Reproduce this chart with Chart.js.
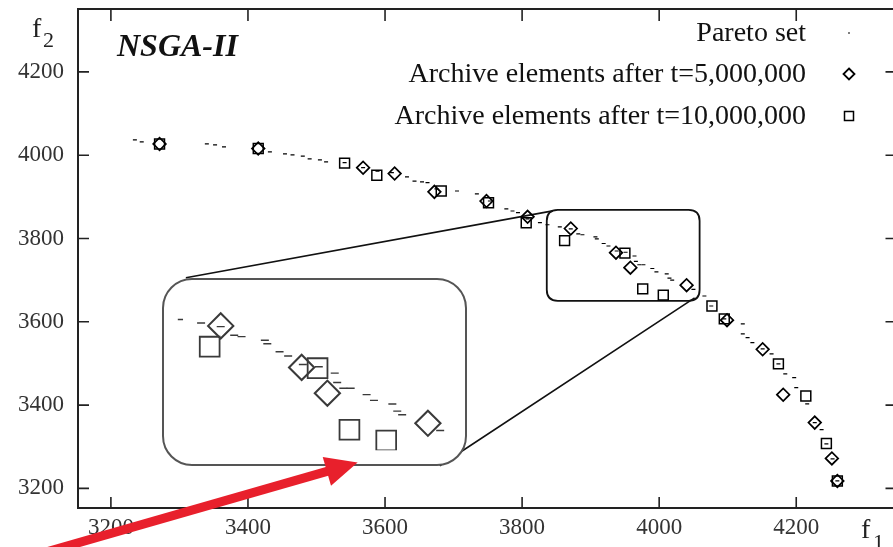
<!DOCTYPE html>
<html><head><meta charset="utf-8">
<script src="https://cdn.jsdelivr.net/npm/chart.js@4/dist/chart.umd.min.js"></script>
<style>
html,body{margin:0;padding:0;background:#fff;overflow:hidden}
#wrap{position:relative;width:900px;height:547px}
#main{position:absolute;left:0;top:0}
#inset{position:absolute;background:#fff;border:2px solid #555;border-radius:30px;box-sizing:border-box;overflow:hidden}
#insetCanvas{position:absolute;left:-2px;top:-2px}
#top{position:absolute;left:0;top:0;pointer-events:none}
</style></head><body>
<div id="wrap">
<canvas id="main" width="900" height="547"></canvas>
<div id="inset"><canvas id="insetCanvas"></canvas></div>
<canvas id="top" width="900" height="547"></canvas>
</div>
<script>
// ---- data ----
const xTicks = [3200, 3400, 3600, 3800, 4000, 4200];
const yTicks = [3200, 3400, 3600, 3800, 4000, 4200];
const seriesLabels = ["Pareto set", "Archive elements after t=5,000,000", "Archive elements after t=10,000,000"];
const paretoX = [3235,3245,3340,3352,3365,3432,3454,3465,3480,3490,3505,3514,3541,3568,3589,3610,3632,3643,3654,3662,3675,3705,3734,3753,3777,3786,3794,3808,3826,3837,3855,3871,3882,3888,3907,3909,3919,3926,3938,3951,3964,3966,3971,3977,3990,3996,4011,4015,4019,4050,4066,4076,4095,4122,4122,4129,4136,4151,4164,4174,4184,4197,4200,4216,4227,4237,4244,4253,4260];
const paretoY = [4037,4032,4027,4025,4020,4008,4003,4001,3998,3991,3989,3984,3982,3970,3962,3958,3948,3938,3936,3934,3919,3914,3907,3890,3871,3866,3862,3847,3838,3833,3828,3823,3811,3809,3804,3799,3788,3782,3770,3767,3758,3745,3737,3737,3728,3720,3715,3705,3700,3678,3662,3638,3607,3595,3571,3562,3550,3535,3523,3499,3475,3466,3442,3403,3358,3341,3307,3271,3218];
const arch5X = [3271,3415,3568,3614,3672,3748,3808,3871,3937,3958,4040,4099,4151,4181,4227,4252,4260];
const arch5Y = [4027,4016,3970,3956,3912,3890,3852,3824,3766,3730,3688,3604,3534,3425,3358,3272,3218];
const arch10X = [3271,3415,3541,3588,3682,3751,3806,3862,3950,3976,4006,4077,4095,4174,4214,4244,4260];
const arch10Y = [4027,4016,3981,3952,3914,3886,3838,3795,3765,3679,3664,3638,3607,3499,3422,3308,3218];
// zoomed region (small box) and where it is magnified (large box), in data units
const zoomX = [3836, 4059];
const zoomY = [3650.4, 3868.8];
const insetX = [3274.4, 3719.2];
const insetY = [3254.4, 3705.6];
// arrow (data units)
const arrowFrom = [3090, 3040];
const arrowTo = [3560, 3262];

const pts = (xs, ys) => xs.map((x, i) => ({x, y: ys[i]}));
const SERIF = "'Liberation Serif', 'DejaVu Serif', serif";

function makeDatasets(scale, color, lw) {
  return [
    {label: seriesLabels[0], data: pts(paretoX, paretoY), pointStyle: 'line',
     pointRadius: 2 * scale, borderWidth: lw * 0.8, borderColor: color, backgroundColor: color, showLine: false},
    {label: seriesLabels[1], data: pts(arch5X, arch5Y), pointStyle: 'rectRot',
     pointRadius: 6.3 * scale, borderWidth: lw * 1.15, borderColor: color, backgroundColor: 'rgba(0,0,0,0)', showLine: false},
    {label: seriesLabels[2], data: pts(arch10X, arch10Y), pointStyle: 'rect',
     pointRadius: 7 * scale, borderWidth: lw, borderColor: color, backgroundColor: 'rgba(0,0,0,0)', showLine: false}
  ];
}

function roundRect(ctx, x, y, w, h, r) {
  ctx.beginPath();
  ctx.moveTo(x + r, y);
  ctx.lineTo(x + w - r, y); ctx.quadraticCurveTo(x + w, y, x + w, y + r);
  ctx.lineTo(x + w, y + h - r); ctx.quadraticCurveTo(x + w, y + h, x + w - r, y + h);
  ctx.lineTo(x + r, y + h); ctx.quadraticCurveTo(x, y + h, x, y + h - r);
  ctx.lineTo(x, y + r); ctx.quadraticCurveTo(x, y, x + r, y);
  ctx.closePath();
}

const decor = {
  id: 'decor',
  beforeDatasetsDraw(chart) {
    const {ctx, scales: {x, y}} = chart;
    const sL = x.getPixelForValue(zoomX[0]), sR = x.getPixelForValue(zoomX[1]);
    const sT = y.getPixelForValue(zoomY[1]), sB = y.getPixelForValue(zoomY[0]);
    const lL = x.getPixelForValue(insetX[0]), lR = x.getPixelForValue(insetX[1]);
    const lT = y.getPixelForValue(insetY[1]), lB = y.getPixelForValue(insetY[0]);
    ctx.save();
    ctx.strokeStyle = '#111'; ctx.lineWidth = 1.8;
    roundRect(ctx, sL, sT, sR - sL, sB - sT, 11);
    ctx.stroke();
    ctx.lineWidth = 1.6;
    ctx.beginPath();
    ctx.moveTo(lL + 24, lT); ctx.lineTo(sL + 6, sT + 1);
    ctx.moveTo(lR - 27, lB); ctx.lineTo(sR - 5, sB - 3);
    ctx.stroke();
    ctx.restore();
  },
  afterDraw(chart) {
    const {ctx, chartArea: a, scales: {x, y}} = chart;
    const rightEdge = a.right + 5; // frame's right side sits just outside the visible window
    ctx.save();
    // frame
    ctx.strokeStyle = '#222'; ctx.lineWidth = 2;
    ctx.strokeRect(a.left, a.top, rightEdge - a.left, a.bottom - a.top);
    // inward ticks on all sides
    ctx.lineWidth = 1.6;
    ctx.beginPath();
    xTicks.forEach(v => {
      const p = x.getPixelForValue(v);
      ctx.moveTo(p, a.bottom); ctx.lineTo(p, a.bottom - 11);
      ctx.moveTo(p, a.top); ctx.lineTo(p, a.top + 12);
    });
    yTicks.forEach(v => {
      const p = y.getPixelForValue(v);
      ctx.moveTo(a.left, p); ctx.lineTo(a.left + 11, p);
      ctx.moveTo(rightEdge, p); ctx.lineTo(rightEdge - 11, p);
    });
    ctx.stroke();
    // title
    ctx.fillStyle = '#111';
    ctx.font = "bold italic 32px " + SERIF;
    ctx.textBaseline = 'alphabetic'; ctx.textAlign = 'left';
    ctx.fillText('NSGA-II', 117, 56);
    // axis titles
    ctx.fillStyle = '#222';
    ctx.font = "28px " + SERIF;
    ctx.fillText('f', 32, 37);
    ctx.font = "22px " + SERIF;
    ctx.fillText('2', 43, 47);
    ctx.font = "28px " + SERIF;
    ctx.fillText('f', 861, 538);
    ctx.font = "22px " + SERIF;
    ctx.fillText('1', 873, 549);
    // legend
    const rows = [33, 74, 116];
    ctx.font = "28px " + SERIF;
    ctx.textAlign = 'right'; ctx.textBaseline = 'middle';
    chart.data.datasets.forEach((ds, i) => {
      ctx.fillStyle = '#111';
      ctx.fillText(ds.label, 806, rows[i] + 1);
      ctx.strokeStyle = '#000';
      const cx = 849, cy = rows[i];
      ctx.beginPath();
      if (ds.pointStyle === 'line') {
        ctx.lineWidth = 1.2; ctx.moveTo(cx - 1, cy); ctx.lineTo(cx + 1, cy);
      } else if (ds.pointStyle === 'rectRot') {
        ctx.lineWidth = 1.8; const r = 5.5;
        ctx.moveTo(cx, cy - r); ctx.lineTo(cx + r, cy); ctx.lineTo(cx, cy + r); ctx.lineTo(cx - r, cy); ctx.closePath();
      } else {
        ctx.lineWidth = 1.5; const r = 4.5;
        ctx.rect(cx - r, cy - r, 2 * r, 2 * r);
      }
      ctx.stroke();
    });
    ctx.restore();
  }
};

const mainChart = new Chart(document.getElementById('main'), {
  type: 'scatter',
  data: {datasets: makeDatasets(1, '#000', 1.5)},
  options: {
    responsive: false, animation: false,
    layout: {padding: {top: 9, right: 0, left: 0, bottom: 0}},
    plugins: {legend: {display: false}, tooltip: {enabled: false}},
    scales: {
      x: {type: 'linear', min: 3152, max: 4339,
          afterBuildTicks: s => { s.ticks = xTicks.map(v => ({value: v})); },
          afterFit: s => { s.height = 39; s.paddingLeft = 0; s.paddingRight = 0; },
          grid: {display: false, drawTicks: false}, border: {display: false},
          ticks: {padding: 6, color: '#333', font: {family: SERIF, size: 23}, callback: v => String(v)}},
      y: {type: 'linear', min: 3153, max: 4351,
          afterBuildTicks: s => { s.ticks = yTicks.map(v => ({value: v})); },
          afterFit: s => { s.width = 78; s.paddingTop = 0; s.paddingBottom = 0; },
          grid: {display: false, drawTicks: false}, border: {display: false},
          ticks: {padding: 14, color: '#333', font: {family: SERIF, size: 23}, callback: v => String(v)}}
    }
  },
  plugins: [decor]
});

// ---- magnified inset ----
const xs = mainChart.scales.x, ys = mainChart.scales.y;
const L = Math.round(xs.getPixelForValue(insetX[0])), R = Math.round(xs.getPixelForValue(insetX[1]));
const T = Math.round(ys.getPixelForValue(insetY[1])), B = Math.round(ys.getPixelForValue(insetY[0]));
const box = document.getElementById('inset');
box.style.left = L + 'px'; box.style.top = T + 'px';
box.style.width = (R - L) + 'px'; box.style.height = (B - T) + 'px';
const ic = document.getElementById('insetCanvas');
ic.width = R - L; ic.height = B - T;
new Chart(ic, {
  type: 'scatter',
  data: {datasets: makeDatasets(2, '#3a3a3a', 1.8)},
  options: {
    responsive: false, animation: false,
    layout: {padding: 0},
    plugins: {legend: {display: false}, tooltip: {enabled: false}},
    scales: {
      x: {type: 'linear', display: false, min: zoomX[0], max: zoomX[1]},
      y: {type: 'linear', display: false, min: zoomY[0], max: zoomY[1]}
    }
  }
});

// ---- red arrow on top ----
const tc = document.getElementById('top').getContext('2d');
const x0 = xs.getPixelForValue(arrowFrom[0]), y0 = ys.getPixelForValue(arrowFrom[1]);
const x1 = xs.getPixelForValue(arrowTo[0]), y1 = ys.getPixelForValue(arrowTo[1]);
const ang = Math.atan2(y1 - y0, x1 - x0);
const headLen = 32, headW = 15;
const bx = x1 - headLen * Math.cos(ang), by = y1 - headLen * Math.sin(ang);
tc.strokeStyle = '#e8202c'; tc.fillStyle = '#e8202c';
tc.lineWidth = 9;
tc.beginPath(); tc.moveTo(x0, y0); tc.lineTo(bx + 2 * Math.cos(ang), by + 2 * Math.sin(ang)); tc.stroke();
tc.beginPath();
tc.moveTo(x1, y1);
tc.lineTo(bx + headW * Math.sin(ang), by - headW * Math.cos(ang));
tc.lineTo(bx - headW * Math.sin(ang), by + headW * Math.cos(ang));
tc.closePath(); tc.fill();
</script>
</body></html>
